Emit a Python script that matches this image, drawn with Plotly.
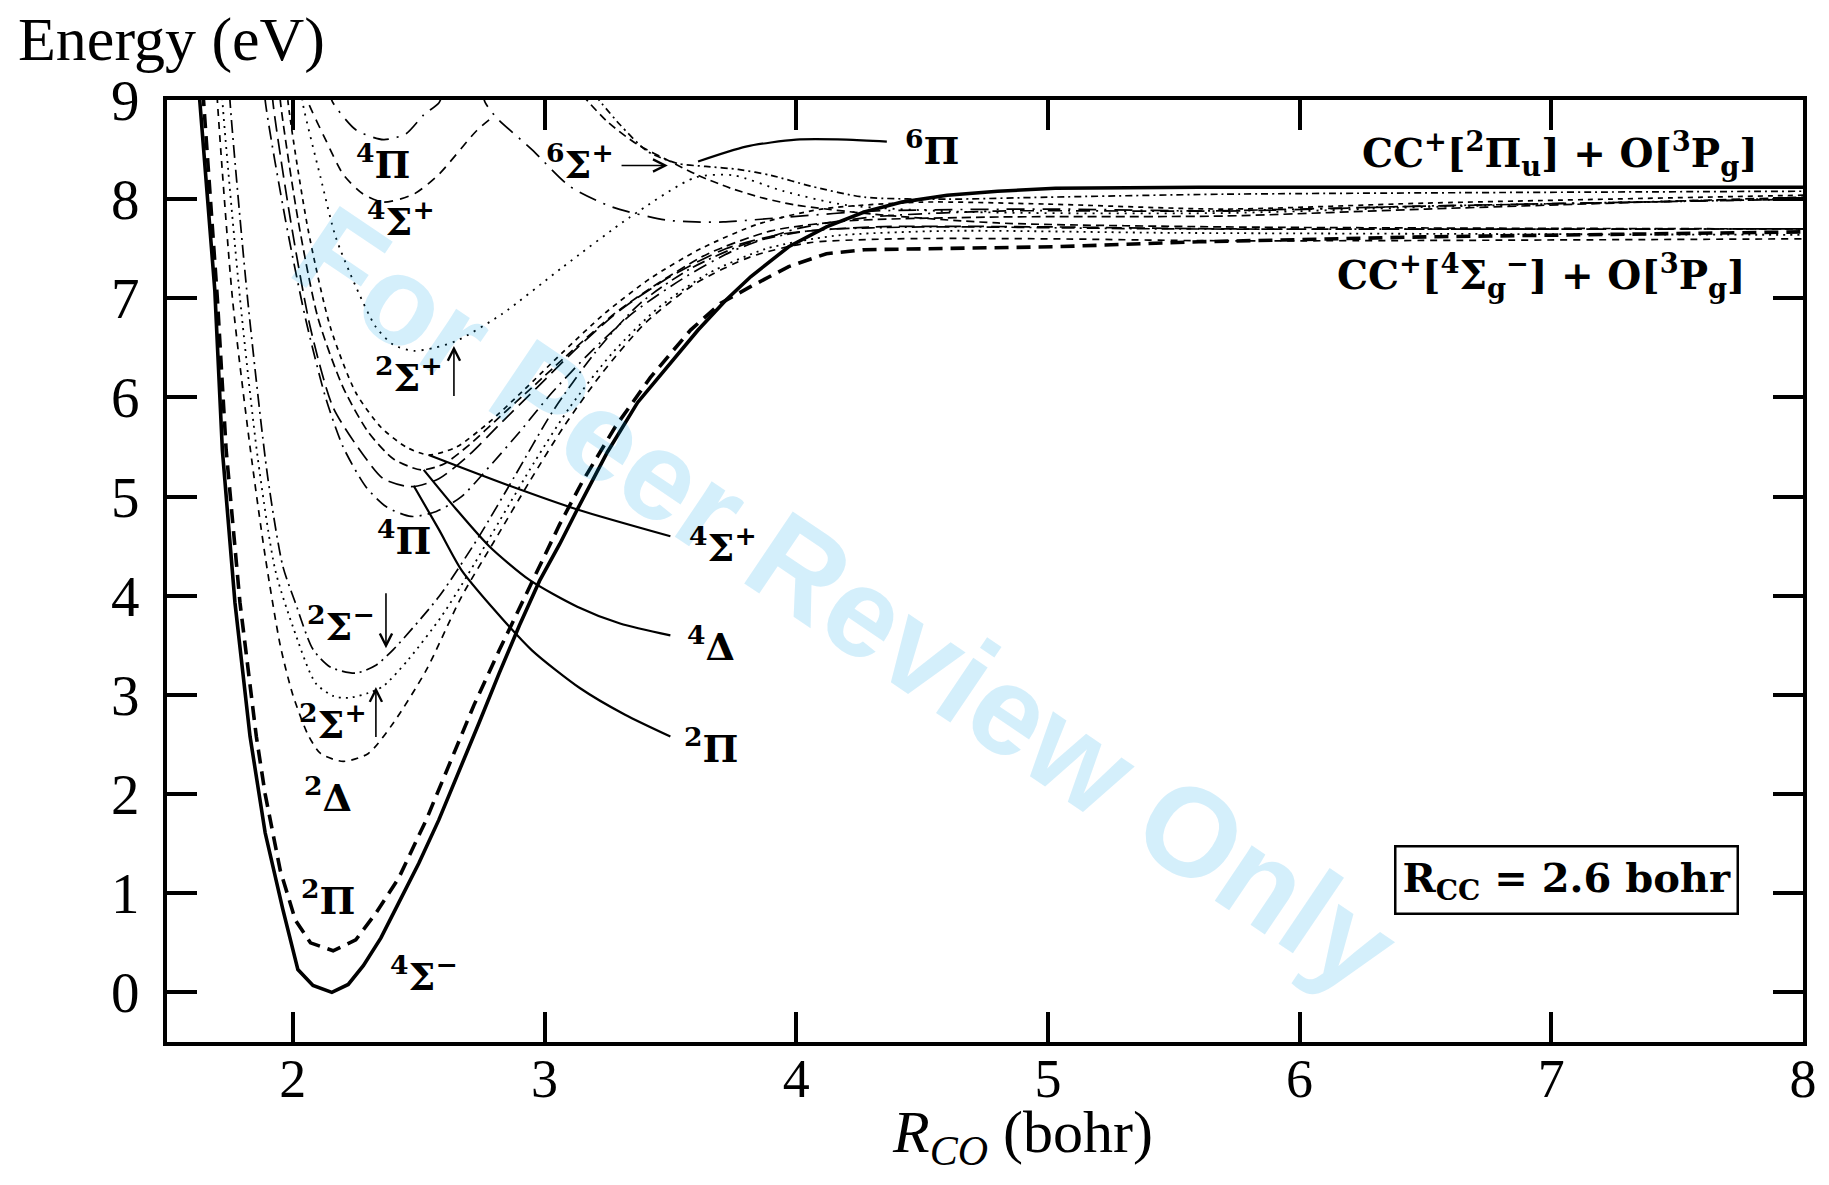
import plotly.graph_objects as go

# ---------------- data (R_CO in bohr, energy in eV) ----------------
R_4Sm = [1.615, 1.63, 1.69, 1.72, 1.77, 1.83, 1.89, 1.96, 2.02, 2.08, 2.155, 2.22, 2.28, 2.35, 2.42, 2.5, 2.58, 2.66,
         2.74, 2.82, 2.9, 2.98, 3.06, 3.13, 3.25, 3.37, 3.5, 3.61, 3.72, 3.82, 3.97, 4.12, 4.27, 4.42, 4.6, 4.8, 5.03, 5.6, 8.0]
E_4Sm = [9.3, 9.0, 7.08, 5.47, 3.93, 2.58, 1.61, 0.84, 0.23, 0.07, 0.0, 0.08, 0.27, 0.55, 0.9, 1.3, 1.74, 2.22,
         2.72, 3.22, 3.7, 4.15, 4.52, 4.87, 5.45, 5.95, 6.35, 6.68, 6.98, 7.22, 7.52, 7.72, 7.87, 7.97, 8.04, 8.08, 8.11, 8.12, 8.12]

R_2Pi = [1.635, 1.645, 1.70, 1.735, 1.79, 1.855, 1.89, 1.95, 2.01, 2.07, 2.16, 2.25, 2.33, 2.42, 2.53, 2.62, 2.72, 2.82,
         2.9, 2.98, 3.06, 3.15, 3.28, 3.42, 3.58, 3.7, 3.82, 3.97, 4.12, 4.27, 4.58, 5.03, 5.6, 6.5, 8.0]
E_2Pi = [9.3, 9.0, 7.0, 5.47, 3.93, 2.58, 2.0, 1.23, 0.73, 0.5, 0.42, 0.53, 0.8, 1.15, 1.74, 2.3, 2.9, 3.45,
         3.88, 4.3, 4.72, 5.15, 5.7, 6.2, 6.68, 6.95, 7.12, 7.32, 7.45, 7.49, 7.5, 7.52, 7.57, 7.62, 7.67]

R_2D = [1.695, 1.70, 1.76, 1.83, 1.89, 1.95, 2.0, 2.06, 2.11, 2.2, 2.3, 2.4, 2.53, 2.67, 2.8, 2.94, 3.08, 3.23, 3.4,
        3.6, 3.82, 4.05, 4.4, 5.0, 5.7, 8.0]
E_2D = [9.3, 9.0, 7.0, 5.5, 4.4, 3.5, 3.0, 2.6, 2.41, 2.33, 2.41, 2.72, 3.25, 3.99, 4.55, 5.15, 5.72, 6.25, 6.75,
        7.15, 7.42, 7.56, 7.6, 7.6, 7.58, 7.6]

R_2Sp = [1.715, 1.72, 1.79, 1.86, 1.93, 2.0, 2.09, 2.16, 2.22, 2.3, 2.36, 2.46, 2.59, 2.69, 2.82, 2.96, 3.1, 3.27,
         3.45, 3.65, 3.88, 4.15, 4.6, 5.5, 8.0]
E_2Sp = [9.3, 9.0, 7.0, 5.4, 4.26, 3.69, 3.12, 2.99, 2.97, 3.02, 3.09, 3.36, 3.79, 4.19, 4.75, 5.35, 5.9, 6.45,
         6.9, 7.25, 7.5, 7.63, 7.68, 7.66, 7.64]

R_2Sm = [1.745, 1.75, 1.82, 1.9, 1.96, 2.01, 2.08, 2.15, 2.25, 2.33, 2.4, 2.58, 2.74, 2.88, 3.03, 3.2, 3.38, 3.58,
         3.8, 4.05, 4.5, 5.5, 8.0]
E_2Sm = [9.3, 9.0, 7.0, 5.2, 4.3, 3.93, 3.46, 3.28, 3.22, 3.3, 3.46, 3.99, 4.6, 5.2, 5.85, 6.45, 6.95, 7.3,
         7.55, 7.68, 7.72, 7.7, 7.7]

R_4Pi = [1.885, 1.89, 1.97, 2.05, 2.13, 2.2, 2.29, 2.37, 2.47, 2.57, 2.67, 2.78, 2.9, 3.03, 3.18, 3.35, 3.55, 3.75,
         4.0, 4.3, 4.8, 5.6, 6.5, 8.0]
E_4Pi = [9.3, 9.0, 7.8, 6.8, 6.0, 5.5, 5.1, 4.9, 4.8, 4.85, 5.0, 5.3, 5.65, 6.05, 6.45, 6.85, 7.2, 7.48,
         7.7, 7.82, 7.88, 7.88, 7.93, 8.0]

R_4D = [1.945, 1.95, 2.02, 2.1, 2.2, 2.3, 2.4, 2.51, 2.6, 2.7, 2.82, 2.95, 3.1, 3.28, 3.45, 3.65, 3.9, 4.2, 4.8,
        5.7, 6.5, 8.0]
E_4D = [9.3, 9.0, 7.8, 6.8, 6.1, 5.65, 5.38, 5.27, 5.33, 5.52, 5.8, 6.1, 6.45, 6.85, 7.15, 7.45, 7.68, 7.78, 7.82,
        7.83, 7.9, 8.02]

R_4Sp = [1.975, 1.98, 2.06, 2.15, 2.25, 2.35, 2.45, 2.54, 2.65, 2.78, 2.92, 3.07, 3.24, 3.42, 3.62, 3.85, 4.1, 4.5,
         5.0, 5.7, 6.5, 8.0]
E_4Sp = [9.3, 9.0, 7.7, 6.7, 6.05, 5.7, 5.5, 5.42, 5.5, 5.75, 6.08, 6.45, 6.85, 7.2, 7.5, 7.75, 7.9, 7.97,
         7.95, 7.9, 7.96, 8.04]

R_2Pib = [1.915, 1.92, 1.99, 2.07, 2.16, 2.28, 2.36, 2.47, 2.58, 2.7, 2.83, 2.97, 3.13, 3.3, 3.5, 3.72, 3.95, 4.3,
          5.0, 5.7, 8.0]
E_2Pib = [9.3, 9.0, 7.8, 6.7, 5.9, 5.42, 5.18, 5.1, 5.18, 5.42, 5.75, 6.1, 6.5, 6.88, 7.22, 7.5, 7.65, 7.72,
          7.72, 7.7, 7.7]

R_2Spu = [2.035, 2.04, 2.11, 2.17, 2.25, 2.33, 2.4, 2.48, 2.56, 2.65, 2.83, 3.07, 3.34, 3.6, 3.75, 3.95, 4.2, 4.7,
          5.7, 6.5, 8.0]
E_2Spu = [9.1, 8.96, 8.22, 7.62, 7.12, 6.71, 6.53, 6.47, 6.5, 6.57, 6.84, 7.31, 7.82, 8.22, 8.24, 8.08, 7.94, 7.87,
          7.86, 7.92, 8.01]

R_4Spu = [2.045, 2.06, 2.13, 2.2, 2.28, 2.36, 2.48, 2.58, 2.73, 2.8]
E_4Spu = [9.1, 8.98, 8.6, 8.25, 8.05, 7.97, 8.05, 8.25, 8.69, 8.84]

R_4Piu = [2.14, 2.16, 2.25, 2.36, 2.45, 2.52, 2.58, 2.6]
E_4Piu = [9.1, 8.97, 8.7, 8.6, 8.66, 8.85, 8.97, 9.1]

R_dd = [2.75, 2.765, 2.81, 2.95, 3.1, 3.27, 3.48, 3.6, 3.71, 3.97, 4.3, 5.0, 5.7, 6.5, 8.0]
E_dd = [9.1, 8.97, 8.82, 8.5, 8.13, 7.92, 7.79, 7.77, 7.77, 7.82, 7.88, 7.9, 7.88, 7.93, 8.0]

R_6Sp = [3.15, 3.25, 3.37, 3.5, 3.61, 3.74, 3.87, 4.0, 4.3, 4.8, 5.7, 8.0]
E_6Sp = [9.05, 8.78, 8.55, 8.38, 8.24, 8.11, 8.01, 7.94, 7.85, 7.76, 7.72, 7.7]

R_6Pi = [3.2, 3.3, 3.41, 3.53, 3.64, 3.77, 3.9, 4.06, 4.27, 4.6, 5.0, 5.7, 8.0]
E_6Pi = [9.05, 8.75, 8.48, 8.36, 8.33, 8.3, 8.24, 8.13, 8.02, 8.0, 8.02, 8.05, 8.08]

# leader lines from labels to curve minima
LEAD_4Sp_R = [2.54, 2.85, 3.13, 3.5]
LEAD_4Sp_E = [5.42, 5.12, 4.87, 4.6]
LEAD_4D_R = [2.52, 2.65, 2.78, 2.94, 3.13, 3.3, 3.5]
LEAD_4D_E = [5.27, 4.87, 4.5, 4.16, 3.89, 3.72, 3.6]
LEAD_2P_R = [2.48, 2.58, 2.67, 2.79, 2.95, 3.14, 3.32, 3.5]
LEAD_2P_E = [5.11, 4.67, 4.26, 3.89, 3.45, 3.07, 2.8, 2.58]
LEAD_6P_R = [3.61, 3.8, 4.0, 4.2, 4.36]
LEAD_6P_E = [8.38, 8.53, 8.6, 8.6, 8.58]

# state labels: (text, R, E)
LABELS = [
    ("<sup>4</sup>Π", 2.36, 8.37),
    ("<sup>4</sup>Σ<sup>+</sup>", 2.43, 7.80),
    ("<sup>6</sup>Σ<sup>+</sup>", 3.14, 8.37),
    ("<sup>2</sup>Σ<sup>+</sup>", 2.46, 6.23),
    ("<sup>4</sup>Π", 2.44, 4.58),
    ("<sup>2</sup>Σ<sup>−</sup>", 2.19, 3.72),
    ("<sup>2</sup>Σ<sup>+</sup>", 2.16, 2.73),
    ("<sup>2</sup>Δ", 2.14, 1.99),
    ("<sup>2</sup>Π", 2.14, 0.95),
    ("<sup>4</sup>Σ<sup>−</sup>", 2.52, 0.19),
    ("<sup>4</sup>Σ<sup>+</sup>", 3.71, 4.51),
    ("<sup>4</sup>Δ", 3.66, 3.51),
    ("<sup>2</sup>Π", 3.66, 2.49),
    ("<sup>6</sup>Π", 4.54, 8.52),
]
# arrows: (tail R, tail E, head R, head E)
ARROWS = [
    (3.30, 8.34, 3.49, 8.34),
    (2.64, 6.0, 2.64, 6.52),
    (2.37, 4.04, 2.37, 3.47),
    (2.33, 2.56, 2.33, 3.08),
]
ASYMPTOTES = [
    ("CC<sup>+</sup>[<sup>2</sup>Π<sub>u</sub>] + O[<sup>3</sup>P<sub>g</sub>]", 7.83, 8.46),
    ("CC<sup>+</sup>[<sup>4</sup>Σ<sub>g</sub><sup>−</sup>] + O[<sup>3</sup>P<sub>g</sub>]", 7.78, 7.23),
]
X_TICKS = [2, 3, 4, 5, 6, 7, 8]
Y_TICKS = [0, 1, 2, 3, 4, 5, 6, 7, 8, 9]

# ---------------- figure ----------------
fig = go.Figure()


def add(R, E, width=1.7, dash="solid", shape="spline"):
    fig.add_trace(go.Scatter(x=R, y=E, mode="lines",
                             line=dict(color="black", width=width, dash=dash, shape=shape, smoothing=0.7),
                             showlegend=False, hoverinfo="skip"))


add(R_2D, E_2D, 1.7, "7px,6px")
add(R_2Sp, E_2Sp, 1.8, "2px,5px")
add(R_2Sm, E_2Sm, 1.7, "13px,5px,2px,5px")
add(R_4Pi, E_4Pi, 1.7, "14px,6px,2px,6px")
add(R_4D, E_4D, 1.7, "9px,5px")
add(R_4Sp, E_4Sp, 1.7, "5px,5px")
add(R_2Pib, E_2Pib, 1.7, "16px,7px")
add(R_2Spu, E_2Spu, 1.8, "2px,6px")
add(R_4Spu, E_4Spu, 1.7, "9px,7px")
add(R_4Piu, E_4Piu, 1.7, "16px,8px,2px,8px")
add(R_dd, E_dd, 1.7, "18px,8px,2px,8px")
add(R_6Sp, E_6Sp, 1.7, "8px,5px")
add(R_6Pi, E_6Pi, 1.7, "7px,4px,2px,4px")
add(R_2Pi, E_2Pi, 3.6, "14px,8px", "linear")
add(R_4Sm, E_4Sm, 3.6, "solid", "linear")

for lr, le in [(LEAD_4Sp_R, LEAD_4Sp_E), (LEAD_4D_R, LEAD_4D_E), (LEAD_2P_R, LEAD_2P_E), (LEAD_6P_R, LEAD_6P_E)]:
    add(lr, le, 2.2, "solid")

ann = []
# watermark
ann.append(dict(text="<b>For Peer Review Only</b>", xref="paper", yref="paper", x=0.415, y=0.47,
                showarrow=False, textangle=34,
                font=dict(family="Liberation Sans, Arial", size=126, color="rgba(0,160,230,0.17)")))
LAB_FONT = dict(family="DejaVu Serif", size=38, color="black")
for t, r, e in LABELS:
    ann.append(dict(text="<b>" + t + "</b>", x=r, y=e, xref="x", yref="y", showarrow=False,
                    font=LAB_FONT, xanchor="center", yanchor="middle"))
for tr, te, hr, he in ARROWS:
    ann.append(dict(text="", x=hr, y=he, ax=tr, ay=te, xref="x", yref="y", axref="x", ayref="y",
                    showarrow=True, arrowhead=5, arrowsize=1.5, arrowwidth=1.6, arrowcolor="black"))
for t, r, e in ASYMPTOTES:
    ann.append(dict(text="<b>" + t + "</b>", x=r, y=e, xref="x", yref="y", showarrow=False,
                    font=dict(family="DejaVu Serif", size=39, color="black"), xanchor="right", yanchor="middle"))
# R_CC box
ann.append(dict(text="<b>R<sub>CC</sub> = 2.6 bohr</b>", x=7.06, y=1.13, xref="x", yref="y", showarrow=False,
                font=dict(family="DejaVu Serif", size=40, color="black"), bordercolor="black", borderwidth=2.5,
                borderpad=6, bgcolor="white"))
# axis titles
ann.append(dict(text="Energy (eV)", xref="paper", yref="paper", x=-0.092, y=1.064, xanchor="left",
                yanchor="middle", showarrow=False, font=dict(family="Liberation Serif", size=62, color="black")))
ann.append(dict(text="<i>R</i><sub><i>CO</i></sub> (bohr)", xref="paper", yref="paper", x=0.523, y=-0.1,
                xanchor="center", yanchor="middle", showarrow=False,
                font=dict(family="Liberation Serif", size=60, color="black")))

axis_common = dict(showgrid=False, zeroline=False, ticks="inside", ticklen=30, tickwidth=4, tickcolor="black",
                   showline=True, linewidth=4, linecolor="black", mirror="ticks")

fig.update_layout(
    width=1829, height=1185, autosize=False,
    margin=dict(l=167, r=19, t=100, b=143),
    paper_bgcolor="white", plot_bgcolor="white",
    xaxis=dict(range=[1.5, 8], tickvals=X_TICKS, ticklabelstandoff=-14,
               tickfont=dict(family="Liberation Serif", size=54, color="black"), **axis_common),
    yaxis=dict(range=[-0.5, 9], tickvals=Y_TICKS, ticklabelstandoff=12,
               tickfont=dict(family="Liberation Serif", size=57, color="black"), **axis_common),
    annotations=ann,
    showlegend=False,
)

fig.write_html("out.html")
